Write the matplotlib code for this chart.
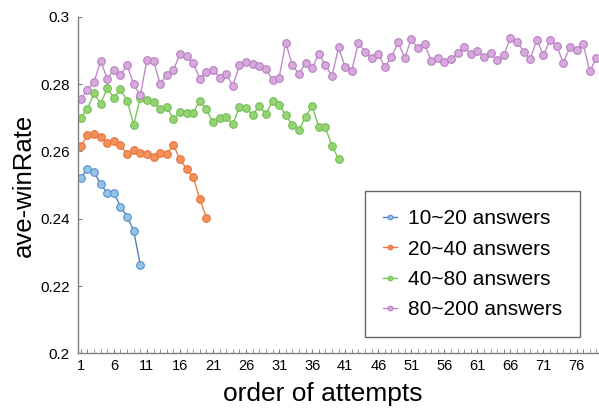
import matplotlib.pyplot as plt
from matplotlib.ticker import MultipleLocator, FixedLocator
import numpy as np

plt.rcParams['font.family'] = ['Liberation Sans', 'DejaVu Sans']

blue = [0.2520, 0.2549, 0.2540, 0.2502, 0.2477, 0.2477, 0.2436, 0.2406, 0.2364, 0.2262]
orange = [0.2616, 0.2648, 0.2652, 0.2642, 0.2626, 0.2632, 0.2618, 0.2592, 0.2604, 0.2596,
          0.2591, 0.2582, 0.2594, 0.2591, 0.2619, 0.2576, 0.2548, 0.2523, 0.2458, 0.2403]
green = [0.2700, 0.2727, 0.2772, 0.2742, 0.2787, 0.2759, 0.2784, 0.2751, 0.2679, 0.2760,
         0.2752, 0.2748, 0.2726, 0.2733, 0.2696, 0.2716, 0.2714, 0.2714, 0.2751, 0.2725,
         0.2686, 0.2698, 0.2703, 0.2680, 0.2733, 0.2728, 0.2708, 0.2736, 0.2711, 0.2749,
         0.2738, 0.2708, 0.2677, 0.2664, 0.2703, 0.2734, 0.2673, 0.2671, 0.2616, 0.2578]
purple = [0.2756, 0.2783, 0.2806, 0.2869, 0.2815, 0.2843, 0.2827, 0.2856, 0.2799, 0.2766,
          0.2872, 0.2869, 0.2800, 0.2827, 0.2841, 0.2890, 0.2882, 0.2863, 0.2816, 0.2836,
          0.2843, 0.2819, 0.2830, 0.2795, 0.2857, 0.2866, 0.2861, 0.2855, 0.2844, 0.2813,
          0.2819, 0.2923, 0.2856, 0.2830, 0.2862, 0.2847, 0.2890, 0.2857, 0.2823, 0.2909,
          0.2850, 0.2840, 0.2923, 0.2895, 0.2876, 0.2890, 0.2850, 0.2880, 0.2924, 0.2878,
          0.2933, 0.2906, 0.2920, 0.2869, 0.2878, 0.2866, 0.2874, 0.2892, 0.2910, 0.2890,
          0.2898, 0.2881, 0.2892, 0.2870, 0.2886, 0.2937, 0.2926, 0.2896, 0.2875, 0.2932,
          0.2885, 0.2932, 0.2914, 0.2863, 0.2910, 0.2902, 0.2920, 0.2838, 0.2877, 0.2870]

series = [
    (blue, '10~20 answers', '#4f81bd', '#92c4ea', '#5b8fc7'),
    (orange, '20~40 answers', '#ee7d45', '#f4905a', '#e8743c'),
    (green, '40~80 answers', '#78c457', '#96d473', '#74bf55'),
    (purple, '80~200 answers', '#c08bc8', '#d7a9dd', '#b77fc0'),
]
xticks = list(range(1, 77, 5))
yticks = [0.2, 0.22, 0.24, 0.26, 0.28, 0.3]
ylabels = ['0.2', '0.22', '0.24', '0.26', '0.28', '0.3']

fig = plt.figure(figsize=(5.99, 4.08), dpi=100)
ax = fig.add_axes([0.13, 0.134, 0.87, 0.825])

for vals, lab, lc, fc, ec in series:
    x = np.arange(1, len(vals) + 1)
    ax.plot(x, vals, '-o', color=lc, lw=1.0, ms=5.5, mfc=fc, mec=ec, mew=0.8, label=lab)

ax.set_xlim(0.55, 79.4)
ax.set_ylim(0.2, 0.3)
ax.xaxis.set_major_locator(FixedLocator(xticks))
ax.xaxis.set_minor_locator(MultipleLocator(1))
ax.set_yticks(yticks)
ax.set_yticklabels(ylabels)
ax.tick_params(axis='x', which='both', direction='in', length=3, color='#808080', labelsize=10.5, pad=4)
ax.tick_params(axis='y', direction='in', length=3, color='#808080', labelsize=11, pad=6)
for s in ['top', 'right']:
    ax.spines[s].set_visible(False)
for s in ['left', 'bottom']:
    ax.spines[s].set_color('#808080')
    ax.spines[s].set_linewidth(1.0)

ax.set_xlabel('order of attempts', fontsize=19)
ax.xaxis.set_label_coords(0.469, -0.122, transform=ax.transAxes)
ax.xaxis.label.set_va('center')
ax.set_ylabel('ave-winRate', fontsize=18.5, labelpad=3)

leg = ax.legend(loc='lower right', bbox_to_anchor=(0.9635, 0.048), borderaxespad=0, fontsize=15,
                frameon=True, fancybox=False, edgecolor='#404040', handlelength=0.65,
                markerscale=0.6, borderpad=0.85, labelspacing=0.55, handletextpad=0.55)
leg.get_frame().set_linewidth(1.0)

fig.savefig('out.png', dpi=100)
